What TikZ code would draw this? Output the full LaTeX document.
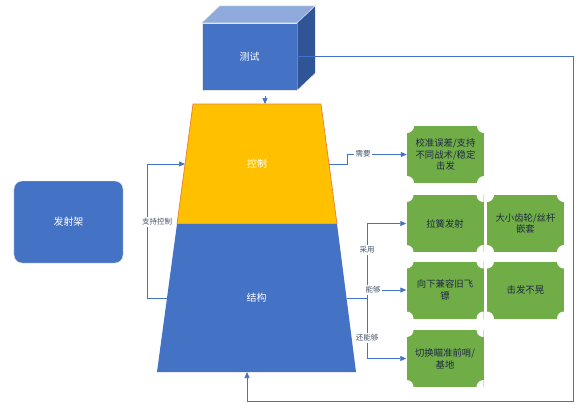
\documentclass[tikz,border=0pt]{standalone}
\usepackage{fontspec}
\newfontfamily\cjk{Noto Sans CJK SC}
\usepackage{xcolor}
\usetikzlibrary{arrows.meta,positioning,calc}
\definecolor{boxblue}{HTML}{4472C4}
\definecolor{boxblueside}{HTML}{2F5597}
\definecolor{boxbluetop}{HTML}{8FAADC}
\definecolor{ctrlyellow}{HTML}{FFC000}
\definecolor{ctrlorange}{HTML}{ED7D31}
\definecolor{leafgreen}{HTML}{70AD47}
\definecolor{linkblue}{HTML}{4472C4}
\definecolor{labgray}{HTML}{44546A}
\definecolor{leaftext}{HTML}{1F2A44}
\begin{document}
\begin{tikzpicture}[x=0.3mm,y=-0.3mm,font=\cjk\fontsize{8}{10}\selectfont,
>={Triangle[length=1.8mm,width=1.5mm]},
block/.style={draw=white!80!gray,fill=boxblue,text=white,font=\cjk\fontsize{8.5}{10}\selectfont},
title/.style={text=white,font=\cjk\fontsize{8.5}{10}\selectfont},
leaf/.style={fill=leafgreen,text=leaftext,align=center,minimum width=23.1mm,minimum height=17.1mm,inner sep=0pt,
  path picture={\foreach \c in {north west,north east,south west,south east}
    \fill[white] (path picture bounding box.\c) circle (2.1mm);}},
lab/.style={fill=white,inner sep=1pt,text=labgray,font=\cjk\fontsize{6.4}{7}\selectfont},
link/.style={draw=linkblue,line width=.6pt}]
\useasboundingbox (0,0) rectangle (577,403);
% test cube
\node[block,minimum width=28.5mm,minimum height=20.1mm] (ceshi) at (249.5,56.5) {测试};
\filldraw[fill=boxbluetop,draw=white!80!gray] (ceshi.north west) -- ++(18,-17) -- ([shift={(18,-17)}]ceshi.north east) -- (ceshi.north east) -- cycle;
\filldraw[fill=boxblueside,draw=white!80!gray] (ceshi.north east) -- ++(18,-17) -- ([shift={(18,-17)}]ceshi.south east) -- (ceshi.south east) -- cycle;
% control / structure trapezoid
\coordinate (tl) at (193,104); \coordinate (tr) at (321,104);
\coordinate (ml) at (177,224); \coordinate (mr) at (337,224);
\coordinate (bl) at (157,372); \coordinate (br) at (356,372);
\filldraw[fill=ctrlyellow,draw=ctrlorange,line width=.6pt] (tl) -- (tr) -- (mr) -- (ml) -- cycle;
\fill[boxblue] (ml) -- (mr) -- (br) -- (bl) -- cycle;
\node[title] (kongzhi) at (257,164) {控制};
\node[title] (jiegou) at (256.5,298) {结构};
\coordinate (kz-w) at ($(tl)!.5!(ml)$);
\coordinate (kz-e) at ($(tr)!.5!(mr)$);
\coordinate (jg-w) at ($(ml)!.5!(bl)$);
\coordinate (jg-e) at ($(mr)!.5!(br)$);
\node[block,rounded corners=2.4mm,minimum width=32.7mm,minimum height=24.6mm] (fasheji) at (68.5,222) {发射架};
% leaves
\node[leaf] (jiaozhun) at (445.5,154.5) {校准误差/支持\\不同战术/稳定\\击发};
\node[leaf] (lahuang) at (445,223.5) {拉簧发射};
\node[leaf,right=0.9mm of lahuang] (chilun) {大小齿轮/丝杆\\嵌套};
\node[leaf] (jianrong) at (445,290) {向下兼容旧飞\\镖};
\node[leaf,right=0.9mm of jianrong] (buhuang) {击发不晃};
\node[leaf] (qiehuan) at (445,358.5) {切换瞄准前哨/\\基地};
% links
\coordinate (drop) at (265,96);
\draw[link,->] (drop) -- (drop |- tl);
\draw[link,->] (jg-w) -- ++(-20,0) |- (kz-w);
\node[lab] (zhichi) at (157,222) {支持控制};
\draw[link,->] (kz-e) -- ++(18,0) |- (jiaozhun.west);
\node[lab] (xuyao) at (363,154) {需要};
\coordinate (fork) at (367,298);
\draw[link] (jg-e) -- (fork);
\draw[link,->] (fork) |- (lahuang.west);
\draw[link,->] (fork) |- (jianrong.west);
\draw[link,->] (fork) |- (qiehuan.west);
\node[lab] (caiyong) at (367,250) {采用};
\node[lab] (nenggou) at (373,290) {能够};
\node[lab] (hainenggou) at (367,338) {还能够};
\coordinate (ret) at (573,401);
\draw[link,->] (ceshi.east) -| (ret) -| (247,372);
\end{tikzpicture}
\end{document}
